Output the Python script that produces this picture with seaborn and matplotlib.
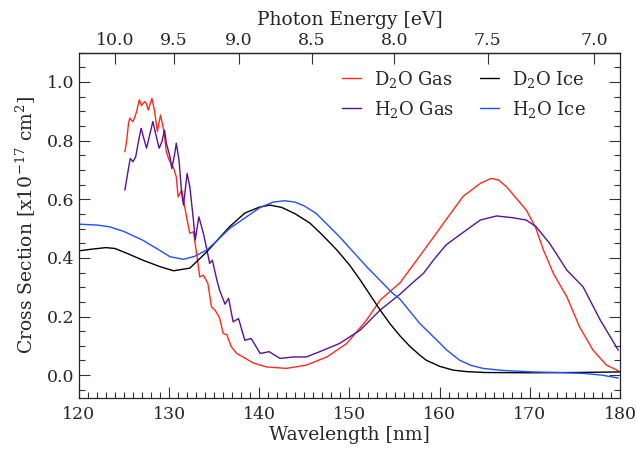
import numpy as np
import pandas as pd
import matplotlib
matplotlib.use('Agg')
import matplotlib.pyplot as plt
from matplotlib.ticker import MultipleLocator, FormatStrFormatter
import seaborn as sns

# wavelength [nm] / cross section [1e-17 cm^2]
d2o_gas_wl = [125.1, 125.3, 125.5, 125.65, 125.8, 126.0, 126.2, 126.4, 126.7, 126.95,
              127.3, 127.5, 127.7, 127.9, 128.1, 128.4, 128.7, 129.05, 129.4, 129.7,
              130.0, 130.45, 130.8, 131.0, 131.4, 131.6, 132.0, 132.3, 132.7, 133.1,
              133.4, 133.8, 134.3, 134.7, 135.1, 135.6, 136.0, 136.4, 136.9, 137.5,
              138.2, 139.3, 140.8, 143.0, 145.2, 147.5, 149.7, 151.9, 153.4, 155.6,
              157.4, 159.3, 160.7, 162.6, 164.5, 165.7, 166.5, 167.4, 168.5, 169.6,
              170.6, 171.5, 172.6, 174.1, 175.5, 177.0, 178.5, 179.8]
d2o_gas = [0.762, 0.80, 0.858, 0.877, 0.870, 0.865, 0.88, 0.899, 0.939, 0.92,
           0.933, 0.925, 0.904, 0.925, 0.944, 0.899, 0.831, 0.887, 0.836, 0.762,
           0.734, 0.711, 0.677, 0.608, 0.631, 0.597, 0.529, 0.484, 0.489, 0.404,
           0.335, 0.341, 0.313, 0.233, 0.222, 0.195, 0.142, 0.138, 0.097, 0.074,
           0.062, 0.042, 0.028, 0.023, 0.034, 0.062, 0.108, 0.188, 0.256, 0.315,
           0.39, 0.47, 0.53, 0.61, 0.654, 0.671, 0.666, 0.643, 0.603, 0.563,
           0.506, 0.427, 0.347, 0.267, 0.165, 0.085, 0.034, 0.015]

h2o_gas_wl = [125.1, 125.5, 125.7, 126.0, 126.3, 126.6, 126.9, 127.1, 127.5, 127.8,
              128.2, 128.5, 128.9, 129.2, 129.5, 129.7, 130.1, 130.3, 130.6, 130.8,
              131.1, 131.4, 131.6, 132.0, 132.3, 132.7, 132.9, 133.3, 133.8, 134.2,
              134.5, 134.8, 135.3, 135.6, 136.2, 136.6, 137.1, 137.7, 138.4, 139.1,
              140.1, 141.1, 142.3, 143.8, 145.2, 146.7, 148.9, 151.2, 153.4, 155.6,
              157.1, 158.2, 159.3, 160.7, 162.2, 164.5, 166.3, 168.1, 169.6, 170.7,
              172.2, 174.1, 175.9, 177.8, 179.8]
h2o_gas = [0.631, 0.705, 0.739, 0.728, 0.745, 0.796, 0.842, 0.819, 0.774, 0.813,
           0.865, 0.825, 0.774, 0.796, 0.836, 0.791, 0.745, 0.705, 0.751, 0.791,
           0.734, 0.62, 0.58, 0.688, 0.643, 0.529, 0.461, 0.54, 0.484, 0.427,
           0.381, 0.392, 0.324, 0.29, 0.242, 0.262, 0.182, 0.193, 0.119, 0.125,
           0.074, 0.08, 0.057, 0.062, 0.062, 0.08, 0.108, 0.154, 0.222, 0.276,
           0.318, 0.347, 0.392, 0.444, 0.478, 0.529, 0.543, 0.537, 0.529, 0.506,
           0.449, 0.358, 0.301, 0.188, 0.085]

d2o_ice_wl = [120, 121.5, 123, 124, 125.3, 127.1, 129, 130.5, 132.3, 134.2,
              136.7, 138.4, 140, 141.2, 142.5, 144, 145.6, 147, 148.6, 150,
              151.2, 152.3, 153.4, 154.5, 155.6, 156.7, 157.8, 158.5, 160, 161.5,
              163, 165, 170, 175, 180]
d2o_ice = [0.424, 0.430, 0.435, 0.432, 0.416, 0.392, 0.370, 0.356, 0.365, 0.421,
           0.506, 0.553, 0.573, 0.58, 0.572, 0.55, 0.519, 0.478, 0.427, 0.376,
           0.324, 0.273, 0.222, 0.175, 0.134, 0.098, 0.068, 0.051, 0.03, 0.017,
           0.012, 0.009, 0.008, 0.009, 0.011]

h2o_ice_wl = [120, 122, 123.4, 125, 127.1, 129, 130.1, 131.6, 132.8, 134.2,
              135.6, 136.7, 138.4, 140.1, 141.5, 142.8, 144, 145, 146.3, 148.9,
              151.9, 154.8, 155.6, 157.8, 159.3, 160.8, 162.2, 163.5, 164.8, 167,
              170.3, 173, 175.9, 178, 179.8]
h2o_ice = [0.515, 0.512, 0.506, 0.49, 0.46, 0.425, 0.404, 0.395, 0.405, 0.427,
           0.467, 0.5, 0.536, 0.572, 0.59, 0.595, 0.59, 0.577, 0.552, 0.472,
           0.37, 0.279, 0.259, 0.176, 0.131, 0.085, 0.051, 0.033, 0.023, 0.016,
           0.011, 0.009, 0.006, 0.0, -0.01]

energy_ticks = [10.0, 9.5, 9.0, 8.5, 8.0, 7.5, 7.0]
HC = 1239.84  # eV nm

series = [
    ('D$_2$O Gas', d2o_gas_wl, d2o_gas, '#ff2a1a'),
    ('H$_2$O Gas', h2o_gas_wl, h2o_gas, '#5a1099'),
    ('D$_2$O Ice', d2o_ice_wl, d2o_ice, 'black'),
    ('H$_2$O Ice', h2o_ice_wl, h2o_ice, '#1f50ff'),
]

sns.set_theme(style='ticks')
plt.rcParams['font.family'] = ['DejaVu Serif']
plt.rcParams['mathtext.fontset'] = 'dejavuserif'
plt.rcParams['axes.linewidth'] = 0.9

fig, ax = plt.subplots(figsize=(6.36, 4.58), dpi=100)
fig.subplots_adjust(left=0.124, right=0.975, bottom=0.131, top=0.885)

for name, wl, val, col in series:
    df = pd.DataFrame({'wl': wl, 'xs': val})
    sns.lineplot(data=df, x='wl', y='xs', color=col, lw=1.0, label=name, ax=ax)

ax.set_xlim(120, 180)
ax.set_ylim(-0.078, 1.1)
ax.xaxis.set_major_locator(MultipleLocator(10))
ax.xaxis.set_minor_locator(MultipleLocator(1))
ax.yaxis.set_major_locator(MultipleLocator(0.2))
ax.yaxis.set_minor_locator(MultipleLocator(0.05))
ax.yaxis.set_major_formatter(FormatStrFormatter('%.1f'))
ax.tick_params(which='both', direction='in', top=False, right=True, labelsize=12.5, color='#333333')
ax.tick_params(which='major', length=8, width=0.8)
ax.tick_params(which='minor', length=4, width=0.8)
ax.tick_params(axis='x', pad=6)
ax.set_xlabel('Wavelength [nm]', fontsize=13.5, labelpad=2)
ax.set_ylabel('Cross Section [x10$^{-17}$ cm$^2$]', fontsize=13.5, labelpad=6)

top = ax.secondary_xaxis('top', functions=(lambda w: HC / w, lambda e: HC / e))
top.set_xticks(energy_ticks)
top.xaxis.set_major_formatter(FormatStrFormatter('%.1f'))
top.xaxis.set_minor_locator(matplotlib.ticker.NullLocator())
top.tick_params(direction='in', length=8, width=0.8, labelsize=12.5, pad=3, color='#333333')
top.set_xlabel('Photon Energy [eV]', fontsize=13.5, labelpad=5)

ax.legend(loc='upper right', ncol=2, frameon=False, fontsize=13,
          handlelength=1.1, handletextpad=0.7, columnspacing=1.4,
          labelspacing=0.5, borderaxespad=0, bbox_to_anchor=(0.95, 0.975))

fig.savefig('out.png', dpi=100)
